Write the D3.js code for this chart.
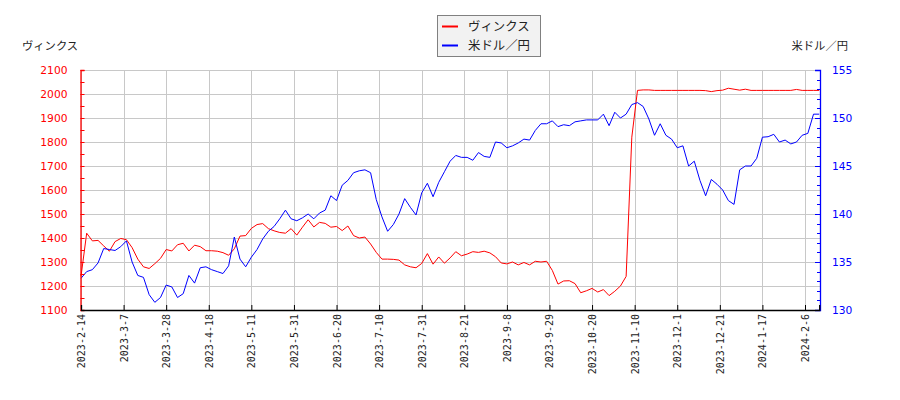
<!doctype html>
<html>
<head>
<meta charset="utf-8">
<title>ヴィンクス と 米ドル／円</title>
<script src="https://d3js.org/d3.v7.min.js"></script>
<style>
  body { margin: 0; background: #fff; }
  svg { display: block; }
  .jp { font-family: "Noto Sans CJK JP", "DejaVu Sans", sans-serif; }
  .ytick { font-family: "DejaVu Sans", sans-serif; font-size: 10.7px; }
  .xtick { font-family: "DejaVu Sans Mono", monospace; font-size: 10px; fill: #222; }
</style>
</head>
<body>
<svg id="chart" width="900" height="400"></svg>
<script>
// one value every 2 trading days, index 0..260
var step = 2;

var vinxPrice = [
  1240, 1420, 1388, 1390, 1367, 1345, 1385, 1398, 1393, 1360,
  1312, 1280, 1273, 1293, 1315, 1352, 1346, 1372, 1378, 1346,
  1370, 1364, 1347, 1347, 1345, 1339, 1328, 1355, 1408, 1410,
  1440, 1456, 1460, 1439, 1430, 1423, 1420, 1439, 1412, 1445,
  1476, 1446, 1465, 1461, 1445, 1448, 1431, 1450, 1410, 1400,
  1404, 1375, 1340, 1312, 1312, 1311, 1308, 1288, 1280, 1276,
  1294, 1335, 1291, 1321, 1295, 1317, 1343, 1326, 1333, 1343,
  1340, 1345, 1338, 1322, 1296, 1292, 1300, 1288, 1298, 1288,
  1303, 1300, 1303, 1265, 1208, 1221, 1222, 1210, 1172, 1180,
  1190, 1175, 1185, 1160, 1178, 1200, 1240, 1820, 2015, 2017,
  2017, 2015, 2015, 2015, 2015, 2015, 2015, 2015, 2015, 2015,
  2014, 2010, 2014, 2016, 2024, 2020, 2016, 2020, 2015, 2015,
  2015, 2015, 2015, 2015, 2015, 2015, 2019, 2015, 2015, 2015,
  2015
];

var usdJpy = [
  133.3, 134.0, 134.2, 134.9, 136.4, 136.3, 136.2, 136.6, 137.2, 135.0,
  133.6, 133.4, 131.6, 130.8, 131.3, 132.6, 132.4, 131.3, 131.7, 133.6,
  132.8, 134.4, 134.5, 134.2, 134.0, 133.8, 134.6, 137.6, 135.3, 134.5,
  135.5, 136.3, 137.4, 138.2, 138.7, 139.5, 140.4, 139.5, 139.3, 139.6,
  140.0, 139.5, 140.1, 140.4, 141.9, 141.4, 143.0, 143.5, 144.3, 144.5,
  144.6, 144.3, 141.5, 139.7, 138.2, 138.9, 140.0, 141.6, 140.7, 139.9,
  142.2, 143.2, 141.8, 143.3, 144.4, 145.5, 146.1, 145.9, 145.9, 145.6,
  146.4, 146.0, 145.9, 147.5, 147.4, 146.9, 147.1, 147.4, 147.8, 147.7,
  148.7, 149.4, 149.4, 149.7, 149.1, 149.3, 149.2, 149.6, 149.7, 149.8,
  149.8, 149.8, 150.4, 149.2, 150.6, 150.0, 150.4, 151.4, 151.6, 151.2,
  149.9, 148.2, 149.4, 148.2, 147.8, 146.9, 147.1, 145.0, 145.5, 143.5,
  141.9, 143.6, 143.1, 142.5, 141.4, 141.0, 144.6, 145.0, 145.0, 145.8,
  148.0, 148.05, 148.3, 147.5, 147.7, 147.3, 147.5, 148.2, 148.4, 150.4,
  150.4
];

// x ticks every 15 trading days
var tickLabels = [
  "2023-2-14", "2023-3-7", "2023-3-28", "2023-4-18", "2023-5-11", "2023-5-31",
  "2023-6-20", "2023-7-10", "2023-7-31", "2023-8-21", "2023-9-8", "2023-9-29",
  "2023-10-20", "2023-11-10", "2023-12-1", "2023-12-21", "2024-1-17", "2024-2-6"
];
var tickEvery = 15;

var seriesNames = ["ヴィンクス", "米ドル／円"];
var seriesColors = ["#ff0000", "#0000ff"];

var svg = d3.select("#chart");
var pLeft = 80.5, pRight = 820, pTop = 70, pBottom = 310;

var x = d3.scaleLinear().domain([0, 260]).range([81, 819.2]);
var yL = d3.scaleLinear().domain([1100, 2100]).range([pBottom, pTop]);
var yR = d3.scaleLinear().domain([130, 155]).range([pBottom, pTop]);

var tickIdx = tickLabels.map(function(d, i) { return i * tickEvery; });

// grid
var grid = svg.append("g").attr("stroke", "#c8c8c8").attr("stroke-width", 1);
grid.selectAll(".gx").data(tickIdx).enter().append("line")
  .attr("x1", function(d) { return Math.round(x(d)) + 0.5; })
  .attr("x2", function(d) { return Math.round(x(d)) + 0.5; })
  .attr("y1", pTop).attr("y2", pBottom);
grid.selectAll(".gy").data(d3.range(1100, 2101, 100)).enter().append("line")
  .attr("x1", pLeft).attr("x2", pRight)
  .attr("y1", function(d) { return Math.round(yL(d)) + 0.5; })
  .attr("y2", function(d) { return Math.round(yL(d)) + 0.5; });

// lines
var line = function(ys) {
  return d3.line()
    .x(function(d, i) { return x(i * step); })
    .y(function(d) { return ys(d); });
};
svg.append("path").datum(vinxPrice)
  .attr("fill", "none").attr("stroke", seriesColors[0]).attr("stroke-width", 1)
  .attr("d", line(yL));
svg.append("path").datum(usdJpy)
  .attr("fill", "none").attr("stroke", seriesColors[1]).attr("stroke-width", 1)
  .attr("d", line(yR));

// left axis (red), ticks point inward
var axL = svg.append("g").attr("transform", "translate(" + pLeft + ",0)")
  .call(d3.axisLeft(yL).tickValues(d3.range(1100, 2101, 100)).tickSize(-4).tickPadding(13).tickFormat(d3.format("d")));
axL.selectAll(".tick text").attr("class", "ytick").attr("fill", "#ff0000");
axL.selectAll("line").attr("stroke", "#ff0000");
axL.select(".domain").attr("stroke", "#ff0000").attr("stroke-width", 1.3);
svg.append("g").selectAll("line").data(d3.range(1150, 2100, 100)).enter().append("line")
  .attr("x1", pLeft).attr("x2", pLeft + 4)
  .attr("y1", function(d) { return Math.round(yL(d)) + 0.5; })
  .attr("y2", function(d) { return Math.round(yL(d)) + 0.5; })
  .attr("stroke", "#ff0000");

// right axis (blue)
var axR = svg.append("g").attr("transform", "translate(" + pRight + ",0)")
  .call(d3.axisRight(yR).tickValues(d3.range(130, 156, 5)).tickSize(-5).tickPadding(12));
axR.selectAll(".tick text").attr("class", "ytick").attr("fill", "#0000ff");
axR.selectAll("line").attr("stroke", "#0000ff");
axR.select(".domain").attr("stroke", "#0000ff").attr("stroke-width", 1.3);
svg.append("g").selectAll("line").data(d3.range(131, 155).filter(function(d) { return d % 5; })).enter().append("line")
  .attr("x1", pRight - 3).attr("x2", pRight)
  .attr("y1", function(d) { return Math.round(yR(d)) + 0.5; })
  .attr("y2", function(d) { return Math.round(yR(d)) + 0.5; })
  .attr("stroke", "#0000ff");

// bottom axis
var axB = svg.append("g").attr("transform", "translate(0," + pBottom + ")")
  .call(d3.axisBottom(x).tickValues(tickIdx).tickSize(-5).tickPadding(4)
    .tickFormat(function(d, i) { return tickLabels[i]; }));
axB.select(".domain").attr("stroke", "#000").attr("stroke-width", 1.3);
axB.selectAll("line").attr("stroke", "#000");
axB.selectAll(".tick text").attr("class", "xtick")
  .attr("transform", "rotate(-90)")
  .attr("text-anchor", "end")
  .attr("x", -4).attr("y", 0).attr("dy", "0.35em");

// axis titles
svg.append("text").attr("class", "jp").attr("x", 22).attr("y", 50)
  .attr("font-size", 11.3).attr("fill", "#222").text(seriesNames[0]);
svg.append("text").attr("class", "jp").attr("x", 848).attr("y", 50)
  .attr("text-anchor", "end").attr("font-size", 11.3).attr("fill", "#222").text(seriesNames[1]);

// legend
var lg = svg.append("g");
lg.append("rect").attr("x", 437.5).attr("y", 15.5).attr("width", 103).attr("height", 41)
  .attr("fill", "#f2f2f2").attr("stroke", "#808080");
seriesNames.forEach(function(name, i) {
  var cy = 26.5 + i * 19;
  lg.append("line").attr("x1", 442).attr("x2", 458).attr("y1", cy).attr("y2", cy)
    .attr("stroke", seriesColors[i]).attr("stroke-width", 2);
  lg.append("text").attr("class", "jp").attr("x", 468).attr("y", cy + 4.5)
    .attr("font-size", 12.4).attr("fill", "#222").text(name);
});
</script>
</body>
</html>
